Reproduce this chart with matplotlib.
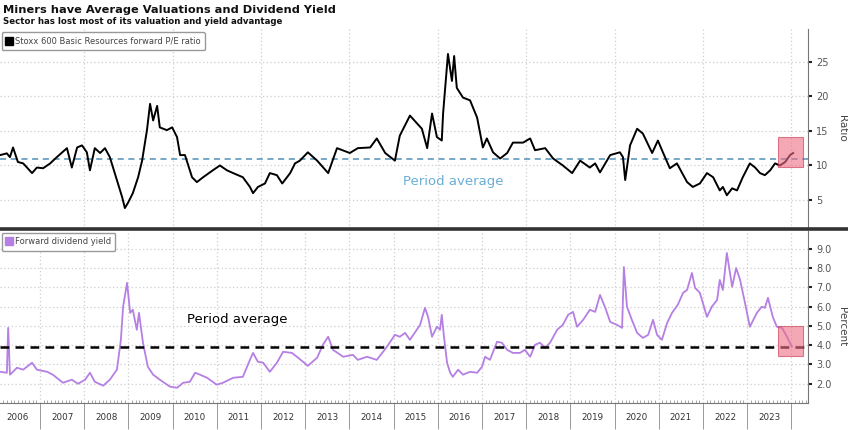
import matplotlib
matplotlib.use("Agg")
import matplotlib.pyplot as plt
from matplotlib.patches import Rectangle
from matplotlib.lines import Line2D
from matplotlib.ticker import FixedLocator, FormatStrFormatter

# Stoxx 600 Basic Resources forward P/E (decimal year, ratio)
pe_years = [2006.10, 2006.25, 2006.32, 2006.39, 2006.50, 2006.62, 2006.82, 2006.93,
            2007.07, 2007.23, 2007.38, 2007.61, 2007.72, 2007.84, 2007.95, 2008.06,
            2008.13, 2008.24, 2008.36, 2008.47, 2008.58, 2008.74, 2008.86, 2008.92,
            2008.99, 2009.10, 2009.22, 2009.31, 2009.42, 2009.49, 2009.56, 2009.65,
            2009.71, 2009.87, 2009.99, 2010.10, 2010.17, 2010.28, 2010.44, 2010.55,
            2010.69, 2010.91, 2011.07, 2011.23, 2011.37, 2011.59, 2011.75, 2011.82,
            2011.93, 2012.09, 2012.20, 2012.36, 2012.48, 2012.66, 2012.77, 2012.88,
            2013.06, 2013.27, 2013.52, 2013.72, 2014.01, 2014.19, 2014.47, 2014.62,
            2014.81, 2015.03, 2015.14, 2015.37, 2015.64, 2015.76, 2015.87, 2015.98,
            2016.09, 2016.12, 2016.23, 2016.32, 2016.37, 2016.43, 2016.57, 2016.73,
            2016.89, 2017.02, 2017.11, 2017.25, 2017.41, 2017.57, 2017.70, 2017.93,
            2018.09, 2018.20, 2018.43, 2018.61, 2018.83, 2019.04, 2019.22, 2019.44,
            2019.56, 2019.67, 2019.90, 2020.12, 2020.19, 2020.24, 2020.35, 2020.51,
            2020.64, 2020.85, 2020.98, 2021.10, 2021.25, 2021.41, 2021.64, 2021.77,
            2021.93, 2022.09, 2022.23, 2022.38, 2022.45, 2022.54, 2022.66, 2022.77,
            2022.90, 2023.06, 2023.18, 2023.29, 2023.40, 2023.52, 2023.63, 2023.74,
            2023.86, 2023.97, 2024.04]
pe_vals = [11.5, 11.75, 11.2, 12.6, 10.5, 10.3, 8.9, 9.7,
           9.6, 10.3, 11.2, 12.5, 9.7, 12.6, 12.9, 11.9,
           9.3, 12.5, 11.8, 12.5, 11.2, 7.9, 5.4, 3.85,
           4.6, 6.0, 8.3, 10.7, 15.1, 18.9, 16.5, 18.6,
           15.5, 15.1, 15.5, 14.1, 11.5, 11.5, 8.3, 7.6,
           8.3, 9.3, 10.0, 9.3, 8.9, 8.3, 6.9, 6.0,
           6.9, 7.4, 8.9, 8.6, 7.4, 8.9, 10.3, 10.7,
           11.9, 10.7, 8.9, 12.5, 11.8, 12.5, 12.6, 13.9,
           11.8, 10.7, 14.3, 17.2, 15.3, 12.5, 17.5, 14.1,
           13.6, 17.5, 26.1, 22.2, 25.8, 21.2, 19.8, 19.4,
           16.9, 12.6, 13.9, 11.9, 11.0, 11.8, 13.3, 13.3,
           13.9, 12.2, 12.5, 11.0, 10.0, 8.9, 10.7, 9.7,
           10.3, 9.0, 11.5, 11.9, 11.2, 7.9, 12.9, 15.3,
           14.6, 11.8, 13.6, 11.8, 9.6, 10.3, 7.6, 6.9,
           7.4, 8.9, 8.3, 6.4, 6.9, 5.7, 6.7, 6.4,
           8.3, 10.3, 9.7, 8.9, 8.6, 9.3, 10.3, 10.0,
           10.5, 11.5, 11.8]

# forward dividend yield (decimal year, percent)
dy_years = [2006.10, 2006.25, 2006.28, 2006.32, 2006.48, 2006.62, 2006.82, 2006.93,
            2007.16, 2007.29, 2007.52, 2007.72, 2007.86, 2008.02, 2008.13, 2008.24,
            2008.43, 2008.58, 2008.74, 2008.83, 2008.88, 2008.97, 2009.04, 2009.10,
            2009.19, 2009.24, 2009.33, 2009.44, 2009.56, 2009.71, 2009.94, 2010.10,
            2010.24, 2010.39, 2010.51, 2010.62, 2010.78, 2011.00, 2011.14, 2011.37,
            2011.59, 2011.75, 2011.82, 2011.93, 2012.05, 2012.20, 2012.36, 2012.50,
            2012.70, 2012.84, 2013.06, 2013.27, 2013.40, 2013.52, 2013.63, 2013.86,
            2014.08, 2014.19, 2014.40, 2014.62, 2014.85, 2015.03, 2015.14, 2015.26,
            2015.37, 2015.60, 2015.71, 2015.78, 2015.87, 2015.98, 2016.05, 2016.09,
            2016.14, 2016.21, 2016.28, 2016.34, 2016.46, 2016.57, 2016.73, 2016.89,
            2017.00, 2017.07, 2017.18, 2017.34, 2017.45, 2017.57, 2017.70, 2017.86,
            2017.97, 2018.09, 2018.20, 2018.31, 2018.43, 2018.54, 2018.70, 2018.83,
            2018.95, 2019.06, 2019.15, 2019.29, 2019.44, 2019.56, 2019.67, 2019.79,
            2019.90, 2020.05, 2020.17, 2020.21, 2020.28, 2020.39, 2020.51, 2020.64,
            2020.76, 2020.87, 2020.96, 2021.07, 2021.19, 2021.30, 2021.43, 2021.55,
            2021.64, 2021.75, 2021.82, 2021.93, 2022.09, 2022.20, 2022.32, 2022.38,
            2022.45, 2022.54, 2022.66, 2022.75, 2022.84, 2022.95, 2023.06, 2023.22,
            2023.33, 2023.40, 2023.47, 2023.58, 2023.67, 2023.79, 2023.90, 2024.01]
dy_vals = [2.62, 2.57, 4.9, 2.47, 2.83, 2.73, 3.09, 2.73,
           2.62, 2.47, 2.05, 2.21, 2.0, 2.21, 2.57, 2.1,
           1.9, 2.21, 2.73, 4.28, 6.0, 7.24, 5.68, 5.84,
           4.8, 5.68, 4.13, 2.88, 2.47, 2.21, 1.85, 1.79,
           2.05, 2.1, 2.57, 2.47, 2.31, 1.95, 2.05, 2.31,
           2.36, 3.24, 3.6, 3.14, 3.09, 2.62, 3.09, 3.66,
           3.6, 3.35, 2.93, 3.35, 4.02, 4.44, 3.76, 3.4,
           3.5, 3.24, 3.4, 3.24, 3.92, 4.54, 4.44, 4.64,
           4.28, 5.06, 5.94, 5.47, 4.44, 4.96, 4.8, 5.58,
           4.44, 3.09, 2.57, 2.36, 2.73, 2.47, 2.62, 2.57,
           2.88, 3.4, 3.24, 4.18, 4.13, 3.76, 3.6, 3.6,
           3.76, 3.4, 4.02, 4.13, 3.87, 4.13, 4.8, 5.06,
           5.58, 5.73, 4.96, 5.32, 5.84, 5.73, 6.61, 5.94,
           5.21, 5.06, 4.9, 8.06, 6.0, 5.32, 4.64, 4.38,
           4.54, 5.32, 4.54, 4.28, 5.16, 5.68, 6.1, 6.72,
           6.87, 7.75, 6.98, 6.72, 5.47, 6.0, 6.35, 7.39,
           6.87, 8.79, 7.03, 8.01, 7.39, 6.2, 4.96, 5.68,
           6.0, 5.94, 6.46, 5.47, 4.96, 4.9, 4.44, 3.92]

pe_avg = 11.0
dy_avg = 3.93
year_labels = list(range(2006, 2024))
pe_ticks = [5, 10, 15, 20, 25]
dy_ticks = [2, 3, 4, 5, 6, 7, 8, 9]

xlim = (2006.095, 2024.376)
grid_kw = dict(color="#cfcfcf", linestyle=(0, (1, 2)), linewidth=0.9)

fig = plt.figure(figsize=(8.48, 4.30), dpi=100)
ax1 = fig.add_axes([0, 1 - 229 / 430, 808 / 848, 200 / 430])
ax2 = fig.add_axes([0, 1 - 403 / 430, 808 / 848, 172 / 430])

for ax in (ax1, ax2):
    ax.set_xlim(*xlim)
    ax.yaxis.tick_right()
    ax.spines["left"].set_visible(False)
    ax.spines["top"].set_visible(False)
    ax.spines["right"].set_color("#777777")
    ax.spines["right"].set_linewidth(0.8)
    ax.tick_params(axis="y", direction="out", length=3, width=1.5, color="#222222",
                   labelsize=7, labelcolor="#555555", pad=3)
    ax.xaxis.set_major_locator(FixedLocator(range(2008, 2025, 2)))
    ax.grid(True, axis="both", **grid_kw)
    ax.set_axisbelow(True)

# top panel
ax1.set_ylim(0.83, 29.7)
ax1.set_yticks(pe_ticks)
ax1.spines["bottom"].set_visible(False)
ax1.tick_params(axis="x", length=0, labelbottom=False)
ax1.plot(pe_years, pe_vals, color="black", lw=1.4, zorder=3)
ax1.axhline(pe_avg, color="#4f8fb5", lw=1.1, dashes=(4, 3), zorder=2)
ax1.text(2016.34, 7.75, "Period average", color="#6aaed6", fontsize=9.5,
         ha="center", va="center")
ax1.add_patch(Rectangle((2023.70, 9.8), 0.56, 4.3, facecolor="#ee6e85", alpha=0.6,
                        edgecolor="#c8304a", lw=0.8, zorder=4))
leg1 = ax1.legend(handles=[Line2D([], [], color="black", marker="s", ls="none", markersize=5.5)],
                  labels=["Stoxx 600 Basic Resources forward P/E ratio"],
                  loc="upper left", bbox_to_anchor=(0.002, 0.985), borderaxespad=0,
                  fontsize=6.0, handlelength=0.6, handletextpad=0.4, borderpad=0.55,
                  framealpha=1, edgecolor="#999999", fancybox=True)
for t in leg1.get_texts():
    t.set_color("#444444")

# bottom panel
ax2.set_ylim(1.0, 9.93)
ax2.set_yticks(dy_ticks)
ax2.yaxis.set_major_formatter(FormatStrFormatter("%.1f"))
ax2.spines["bottom"].set_color("#777777")
ax2.plot(dy_years, dy_vals, color="#b57fe3", lw=1.3, zorder=3)
ax2.axhline(dy_avg, color="black", lw=1.8, dashes=(3.5, 2.5), zorder=4)
ax2.text(2011.46, 5.32, "Period average", color="black", fontsize=9.5,
         ha="center", va="center")
ax2.add_patch(Rectangle((2023.70, 3.45), 0.56, 1.53, facecolor="#ee6e85", alpha=0.6,
                        edgecolor="#c8304a", lw=0.8, zorder=5))
leg2 = ax2.legend(handles=[Line2D([], [], color="#b57fe3", marker="s", ls="none", markersize=5.5)],
                  labels=["Forward dividend yield"],
                  loc="upper left", bbox_to_anchor=(0.002, 0.99), borderaxespad=0,
                  fontsize=6.0, handlelength=0.6, handletextpad=0.4, borderpad=0.55,
                  framealpha=1, edgecolor="#999999", fancybox=True)
for t in leg2.get_texts():
    t.set_color("#444444")

# x axis: year boundaries as long ticks, labels centred in each year
ax2.set_xticks(range(2007, 2025))
ax2.set_xticks([y + m / 12 for y in range(2006, 2025) for m in range(12)
                if xlim[0] < y + m / 12 < xlim[1]], minor=True)
ax2.tick_params(axis="x", which="major", direction="out", length=19, width=0.7,
                color="#999999", labelbottom=False)
ax2.tick_params(axis="x", which="minor", direction="in", length=2, width=0.6,
                color="#999999")
for yr in year_labels:
    ax2.text(yr + 0.5, -0.085, str(yr), transform=ax2.get_xaxis_transform(),
             ha="center", va="center", fontsize=6.3, color="#333333")

# separator between panels
fig.add_artist(Line2D([0, 1], [1 - 229 / 430, 1 - 229 / 430], transform=fig.transFigure,
                      color="#333333", lw=2.6))

fig.text(842 / 848, 1 - 128 / 430, "Ratio", rotation=270, ha="center", va="center",
         fontsize=7.5, color="#444444")
fig.text(842 / 848, 1 - 327 / 430, "Percent", rotation=270, ha="center", va="center",
         fontsize=7.5, color="#444444")

fig.text(0.003, 1 - 10 / 430, "Miners have Average Valuations and Dividend Yield",
         fontsize=8.2, fontweight="bold", ha="left", va="center", color="#111111")
fig.text(0.003, 1 - 21.5 / 430, "Sector has lost most of its valuation and yield advantage",
         fontsize=6.2, fontweight="bold", ha="left", va="center", color="#111111")

fig.savefig("out.png", dpi=100)
